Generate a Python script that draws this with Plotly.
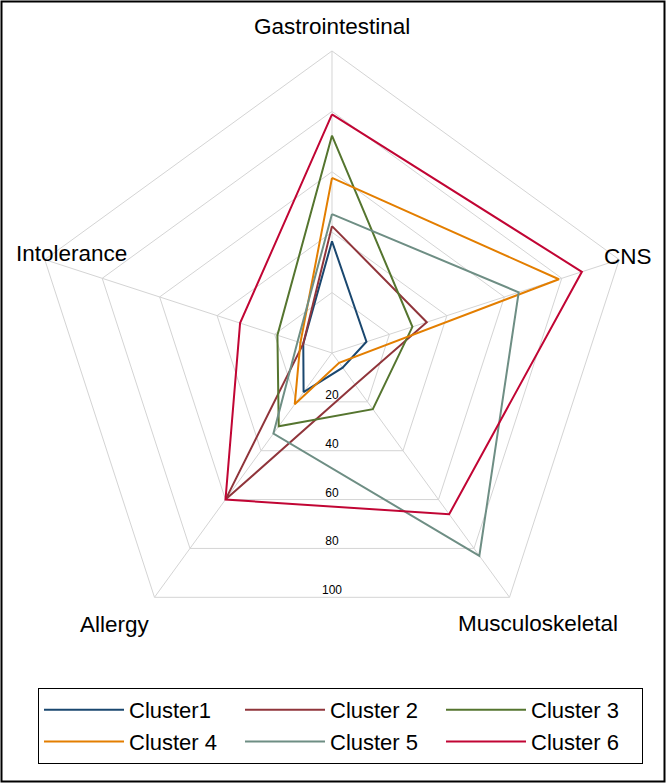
import numpy as np
import plotly.graph_objects as go

categories = ["Gastrointestinal", "CNS", "Musculoskeletal", "Allergy", "Intolerance"]
cluster1 = [37, 12, 6, 16, 10]
cluster2 = [42, 33, 13, 60, 10]
cluster3 = [72, 28, 23, 30, 19]
cluster4 = [58, 79, 4, 21, 11]
cluster5 = [46, 65, 83, 33, 12]
cluster6 = [79, 87, 66, 60, 32]
series_names = ["Cluster1", "Cluster 2", "Cluster 3", "Cluster 4", "Cluster 5", "Cluster 6"]
series_values = [cluster1, cluster2, cluster3, cluster4, cluster5, cluster6]
colors = ["#1a476f", "#90353b", "#55752f", "#e37e00", "#6e8e84", "#c10534"]
radial_ticks = [20, 40, 60, 80, 100]

# pixel placement of the category labels (layout only)
label_px = [(332, 27), (628, 256), (538, 623), (115, 624), (71, 254)]

W, H = 668, 783
FONT = "Liberation Sans, Arial, Helvetica, sans-serif"
GRID = "#d4d4d4"

fig = go.Figure()
for name, vals, col in zip(series_names, series_values, colors):
    fig.add_trace(go.Scatterpolar(
        r=vals + vals[:1], theta=categories + categories[:1],
        mode="lines", name=name,
        line=dict(color=col, width=2),
        subplot="polar",
    ))

# radial tick labels placed along the downward direction (midpoint of bottom edges)
n = len(categories)
edge_factor = np.cos(np.pi / n)
fig.add_trace(go.Scatterpolar(
    r=[t * edge_factor for t in radial_ticks], theta=[180] * len(radial_ticks),
    mode="text", text=[str(t) for t in radial_ticks], textposition="top center",
    textfont=dict(family=FONT, size=12, color="black"),
    showlegend=False, hoverinfo="skip", subplot="polar2",
))

dom_x = [0.0449, 0.9491]
dom_y = [0.1635, 0.9349]

annotations = [
    dict(text=cat, x=px / W, y=1 - py / H, xref="paper", yref="paper",
         xanchor="center", yanchor="middle", showarrow=False,
         font=dict(family=FONT, size=22.5, color="black"))
    for cat, (px, py) in zip(categories, label_px)
]

fig.update_layout(
    width=W, height=H,
    margin=dict(l=0, r=0, t=0, b=0),
    paper_bgcolor="white", plot_bgcolor="white",
    font=dict(family=FONT, color="black"),
    polar=dict(
        domain=dict(x=dom_x, y=dom_y),
        bgcolor="rgba(0,0,0,0)",
        gridshape="linear",
        radialaxis=dict(range=[0, 100], tickvals=radial_ticks, showticklabels=False,
                        ticks="", showline=False, gridcolor=GRID, gridwidth=1),
        angularaxis=dict(categoryorder="array", categoryarray=categories,
                         direction="clockwise", rotation=90,
                         showline=True, linecolor=GRID, linewidth=1,
                         gridcolor=GRID, gridwidth=1, ticks="",
                         showticklabels=False),
    ),
    polar2=dict(
        domain=dict(x=dom_x, y=dom_y),
        bgcolor="rgba(0,0,0,0)",
        radialaxis=dict(range=[0, 100], visible=False),
        angularaxis=dict(visible=False, direction="clockwise", rotation=90),
    ),
    legend=dict(
        orientation="h", x=38 / W, y=1 - 688 / H, xanchor="left", yanchor="top",
        bordercolor="black", borderwidth=1, bgcolor="white",
        font=dict(family=FONT, size=22, color="black"),
        itemwidth=80, entrywidth=106, entrywidthmode="pixels",
        tracegroupgap=0,
    ),
    annotations=annotations,
    shapes=[dict(type="rect", xref="paper", yref="paper",
                 x0=1.5 / W, x1=664.5 / W, y0=1 - 781.5 / H, y1=1 - 1.5 / H,
                 line=dict(color="black", width=2))],
)

fig.write_html("out.html", config={"displayModeBar": False},
               post_script="document.body.style.margin='0px';")
